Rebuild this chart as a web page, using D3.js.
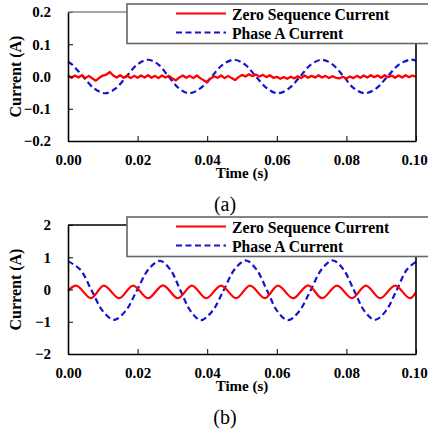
<!DOCTYPE html>
<meta charset="utf-8">
<body style="margin:0;background:#fff">
<script src="https://d3js.org/d3.v7.min.js"></script>
<script>

// Chart data.

var seriesNames = ["Zero Sequence Current", "Phase A Current"];
var captions = ["(a)", "(b)"];
var timeTicks = [0, 0.02, 0.04, 0.06, 0.08, 0.10];
var yTicksA = [-0.2, -0.1, 0, 0.1, 0.2];
var yTicksB = [-2, -1, 0, 1, 2];

// (a) zero sequence current, sampled every 1 ms
var zeroA_t = [
  0.000, 0.001, 0.002, 0.003, 0.004, 0.005, 0.006, 0.007, 0.008, 0.009,
  0.010, 0.011, 0.012, 0.013, 0.014, 0.015, 0.016, 0.017, 0.018, 0.019,
  0.020, 0.021, 0.022, 0.023, 0.024, 0.025, 0.026, 0.027, 0.028, 0.029,
  0.030, 0.031, 0.032, 0.033, 0.034, 0.035, 0.036, 0.037, 0.038, 0.039,
  0.040, 0.041, 0.042, 0.043, 0.044, 0.045, 0.046, 0.047, 0.048, 0.049,
  0.050, 0.051, 0.052, 0.053, 0.054, 0.055, 0.056, 0.057, 0.058, 0.059,
  0.060, 0.061, 0.062, 0.063, 0.064, 0.065, 0.066, 0.067, 0.068, 0.069,
  0.070, 0.071, 0.072, 0.073, 0.074, 0.075, 0.076, 0.077, 0.078, 0.079,
  0.080, 0.081, 0.082, 0.083, 0.084, 0.085, 0.086, 0.087, 0.088, 0.089,
  0.090, 0.091, 0.092, 0.093, 0.094, 0.095, 0.096, 0.097, 0.098, 0.099,
  0.100];
var zeroA_v = [
  0.003, -0.004, 0.003, -0.003, 0.004, -0.005, 0.002, -0.006, -0.013, -0.004,
  0.003, 0.006, 0.014, 0.003, -0.003, 0.004, -0.004, 0.003, -0.005, 0.002,
  -0.004, 0.003, -0.003, 0.004, -0.004, 0.002, -0.005, 0.003, -0.003, 0.002,
  -0.006, -0.012, -0.003, 0.003, -0.004, 0.002, -0.005, 0.003, -0.005, -0.012,
  -0.018, -0.006, 0.001, -0.004, 0.003, -0.005, 0.002, -0.005, -0.011, -0.002,
  0.005, 0.000, 0.007, 0.001, 0.006, 0.000, 0.005, -0.002, 0.004, -0.004,
  -0.001, -0.007, -0.002, -0.007, -0.001, -0.006, 0.001, -0.005, 0.003, -0.004,
  0.002, -0.003, 0.004, -0.003, 0.002, -0.005, 0.001, -0.004, -0.006, -0.001,
  -0.006, 0.000, -0.005, 0.002, -0.004, 0.003, -0.003, 0.004, -0.002, 0.003,
  -0.004, 0.004, -0.002, 0.003, -0.004, 0.003, -0.003, 0.004, -0.002, 0.003,
  -0.001];

// (a) phase A current
var phaseA_t = [
  0.0000, 0.0012, 0.0043, 0.0075, 0.0106, 0.0137, 0.0168, 0.0199, 0.0230,
  0.0260, 0.0289, 0.0319, 0.0348, 0.0380, 0.0413, 0.0445, 0.0477, 0.0509,
  0.0540, 0.0572, 0.0603, 0.0635, 0.0667, 0.0698, 0.0730, 0.0761, 0.0792,
  0.0822, 0.0853, 0.0886, 0.0918, 0.0951, 0.0983, 0.1000];
var phaseA_v = [
  0.046, 0.037, 0.000, -0.037, -0.052, -0.037, 0.000, 0.037, 0.052,
  0.037, 0.000, -0.037, -0.052, -0.037, 0.000, 0.037, 0.052, 0.037,
  0.000, -0.037, -0.052, -0.037, 0.000, 0.037, 0.052, 0.037, 0.000,
  -0.037, -0.052, -0.037, 0.000, 0.037, 0.052, 0.049];

// (b) zero sequence current
var zeroB_t = [
  0.0000, 0.0023, 0.0066, 0.0103, 0.0147, 0.0187, 0.0230, 0.0273, 0.0316,
  0.0356, 0.0397, 0.0440, 0.0483, 0.0523, 0.0566, 0.0603, 0.0647, 0.0690,
  0.0730, 0.0773, 0.0816, 0.0856, 0.0897, 0.0940, 0.0983, 0.1000];
var zeroB_v = [
  -0.04, 0.12, -0.27, 0.12, -0.27, 0.12, -0.27, 0.13, -0.27,
  0.12, -0.27, 0.12, -0.27, 0.12, -0.27, 0.12, -0.27, 0.13,
  -0.27, 0.12, -0.27, 0.12, -0.27, 0.12, -0.27, -0.08];

// (b) phase A current
var phaseB_t = [
  0.0000, 0.0035, 0.0068, 0.0100, 0.0132, 0.0165, 0.0198, 0.0231, 0.0264,
  0.0294, 0.0323, 0.0353, 0.0382, 0.0414, 0.0447, 0.0479, 0.0511, 0.0541,
  0.0572, 0.0602, 0.0632, 0.0664, 0.0697, 0.0729, 0.0761, 0.0791, 0.0822,
  0.0852, 0.0882, 0.0913, 0.0944, 0.0974, 0.1000];
var phaseB_v = [
  0.88, 0.62, -0.03, -0.67, -0.94, -0.67, -0.03, 0.62, 0.89,
  0.62, -0.03, -0.68, -0.95, -0.68, -0.03, 0.63, 0.90, 0.63,
  -0.03, -0.68, -0.95, -0.68, -0.03, 0.63, 0.90, 0.63, -0.03,
  -0.67, -0.94, -0.67, -0.03, 0.62, 0.86];

// Layout

var width = 428,
    height = 436;

var font = "'Liberation Serif', 'Times New Roman', serif";

var svg = d3.select("body").append("svg")
    .attr("width", width)
    .attr("height", height)
    .style("display", "block")
    .style("background", "#fff");

var x = d3.scaleLinear().domain([0, 0.1]).range([68, 416]);

function zip(ts, vs) {
  return ts.map(function(t, i) { return [t, vs[i]]; });
}

function drawPanel(top, yDomain, yTicks, yFormat, zero, phase, zeroCurve, zeroWidth, caption, topColor) {
  var bottom = top + 129;
  var y = d3.scaleLinear().domain(yDomain).range([bottom, top]);
  var g = svg.append("g");

  // curves
  var line = d3.line()
      .x(function(d) { return x(d[0]); })
      .y(function(d) { return y(d[1]); });

  g.append("path")
      .datum(phase)
      .attr("fill", "none")
      .attr("stroke", "#1414cc")
      .attr("stroke-width", 2.2)
      .attr("stroke-dasharray", "6,3.5")
      .attr("d", line.curve(d3.curveCatmullRom.alpha(0.5)));

  g.append("path")
      .datum(zero)
      .attr("fill", "none")
      .attr("stroke", "#ff0000")
      .attr("stroke-width", zeroWidth)
      .attr("stroke-linejoin", "round")
      .attr("d", line.curve(zeroCurve));

  // axes
  var xAxis = d3.axisBottom(x)
      .tickValues(timeTicks)
      .tickSize(-5)
      .tickSizeOuter(0)
      .tickPadding(13)
      .tickFormat(d3.format(".2f"));

  var yAxis = d3.axisLeft(y)
      .tickValues(yTicks)
      .tickSize(-5)
      .tickSizeOuter(0)
      .tickPadding(17)
      .tickFormat(yFormat);

  var gx = g.append("g")
      .attr("transform", "translate(0," + bottom + ")")
      .call(xAxis);

  var gy = g.append("g")
      .attr("transform", "translate(68,0)")
      .call(yAxis);

  [gx, gy].forEach(function(a) {
    a.select(".domain").attr("stroke", "#000").attr("stroke-width", 1.6);
    a.selectAll(".tick line").attr("stroke", "#000").attr("stroke-width", 1);
    a.selectAll("text")
        .attr("fill", "#000")
        .attr("font-family", font)
        .attr("font-weight", "bold")
        .attr("font-size", "15px");
  });

  // keep the last time label inside the picture
  gx.selectAll(".tick text")
      .filter(function(d) { return d === 0.1; })
      .attr("dx", -2);

  // top and right frame
  g.append("line")
      .attr("x1", 68).attr("x2", 416)
      .attr("y1", top).attr("y2", top)
      .attr("stroke", topColor).attr("stroke-width", 1.6);
  g.append("line")
      .attr("x1", 416).attr("x2", 416)
      .attr("y1", top).attr("y2", bottom)
      .attr("stroke", "#000").attr("stroke-width", 1.6);

  // axis titles
  g.append("text")
      .attr("x", 242)
      .attr("y", bottom + 37)
      .attr("text-anchor", "middle")
      .attr("font-family", font)
      .attr("font-weight", "bold")
      .attr("font-size", "15px")
      .text("Time (s)");

  g.append("text")
      .attr("transform", "translate(21," + (top + 64.5) + ") rotate(-90)")
      .attr("text-anchor", "middle")
      .attr("font-family", font)
      .attr("font-weight", "bold")
      .attr("font-size", "16px")
      .text("Current (A)");

  // legend box
  g.append("rect")
      .attr("x", 127)
      .attr("y", top - 8)
      .attr("width", 320)
      .attr("height", 39.5)
      .attr("fill", "#fff")
      .attr("stroke", "#666")
      .attr("stroke-width", 1.6);

  var legend = [
    {name: seriesNames[0], color: "#ff0000", dash: null, dy: 1.5},
    {name: seriesNames[1], color: "#1414cc", dash: "6,3.5", dy: 20.5}
  ];

  legend.forEach(function(l) {
    g.append("line")
        .attr("x1", 176).attr("x2", 226)
        .attr("y1", top + l.dy).attr("y2", top + l.dy)
        .attr("stroke", l.color)
        .attr("stroke-width", 2.2)
        .attr("stroke-dasharray", l.dash);
    g.append("text")
        .attr("x", 232)
        .attr("y", top + l.dy + 6)
        .attr("font-family", font)
        .attr("font-weight", "bold")
        .attr("font-size", "15.7px")
        .text(l.name);
  });

  // caption
  svg.append("text")
      .attr("x", 225)
      .attr("y", bottom + 70)
      .attr("text-anchor", "middle")
      .attr("font-family", font)
      .attr("font-size", "20px")
      .text(caption);
}

drawPanel(12, [-0.2, 0.2], yTicksA, d3.format(".1f"),
    zip(zeroA_t, zeroA_v), zip(phaseA_t, phaseA_v), d3.curveLinear, 2.3, captions[0], "#888");

drawPanel(225, [-2, 2], yTicksB, d3.format("d"),
    zip(zeroB_t, zeroB_v), zip(phaseB_t, phaseB_v), d3.curveMonotoneX, 2.2, captions[1], "#000");

</script>
